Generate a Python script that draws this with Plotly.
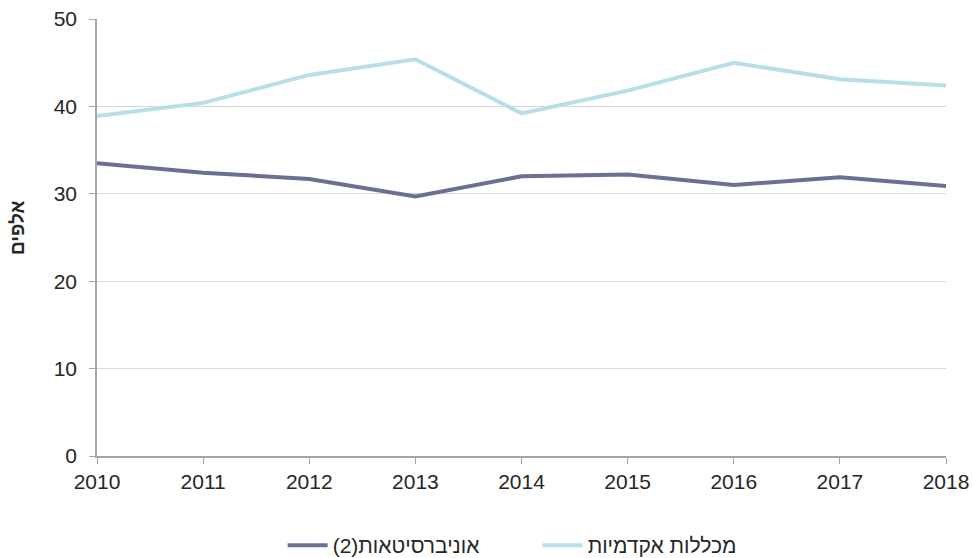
import plotly.graph_objects as go

years = [2010, 2011, 2012, 2013, 2014, 2015, 2016, 2017, 2018]
universities = [33.5, 32.4, 31.7, 29.7, 32.0, 32.2, 31.0, 31.9, 30.9]
colleges = [38.9, 40.4, 43.6, 45.4, 39.2, 41.8, 45.0, 43.1, 42.4]
name_univ = "אוניברסיטאות(2)"
name_coll = "מכללות אקדמיות"
y_title = "אלפים"

fig = go.Figure()
fig.add_trace(go.Scatter(x=years, y=universities, mode="lines", name=name_univ,
                         line=dict(color="#6b6f96", width=4)))
fig.add_trace(go.Scatter(x=years, y=colleges, mode="lines", name=name_coll,
                         line=dict(color="#b7dfe8", width=4)))

font_fam = "Liberation Sans, Arial, sans-serif"
fig.update_layout(
    width=973, height=558,
    margin=dict(l=97, r=27, t=19, b=102, autoexpand=False),
    paper_bgcolor="white", plot_bgcolor="white",
    font=dict(family=font_fam, size=21, color="#262626"),
    showlegend=True,
    legend=dict(orientation="h", x=0.519, xanchor="center", y=-0.2518, yanchor="bottom",
                font=dict(size=21), itemwidth=40, tracegroupgap=0,
                entrywidth=200, entrywidthmode="pixels"),
    xaxis=dict(range=[2010, 2018], tickmode="array", tickvals=years,
               ticktext=[str(y) for y in years],
               showgrid=False, zeroline=False, showline=True, linecolor="#a6a6a6",
               linewidth=1.5, ticks="outside", ticklen=6, tickcolor="#a6a6a6",
               automargin=False),
    yaxis=dict(range=[0, 50], tickvals=[0, 10, 20, 30, 40, 50],
               showgrid=True, gridcolor="#d9d9d9", gridwidth=1.2, zeroline=False,
               showline=True, linecolor="#a6a6a6", linewidth=1.5,
               ticks="outside", ticklen=6, tickcolor="#a6a6a6", automargin=False,
               ticklabelstandoff=8),
    annotations=[dict(text="<b>" + y_title + "</b>", textangle=-90, xref="paper", yref="paper",
                      x=-0.093, y=0.522, xanchor="center", yanchor="middle",
                      showarrow=False, font=dict(size=19, color="#262626"))],
)
fig.write_html("out.html", post_script="document.body.style.margin='0';",
               config={"displayModeBar": False})
